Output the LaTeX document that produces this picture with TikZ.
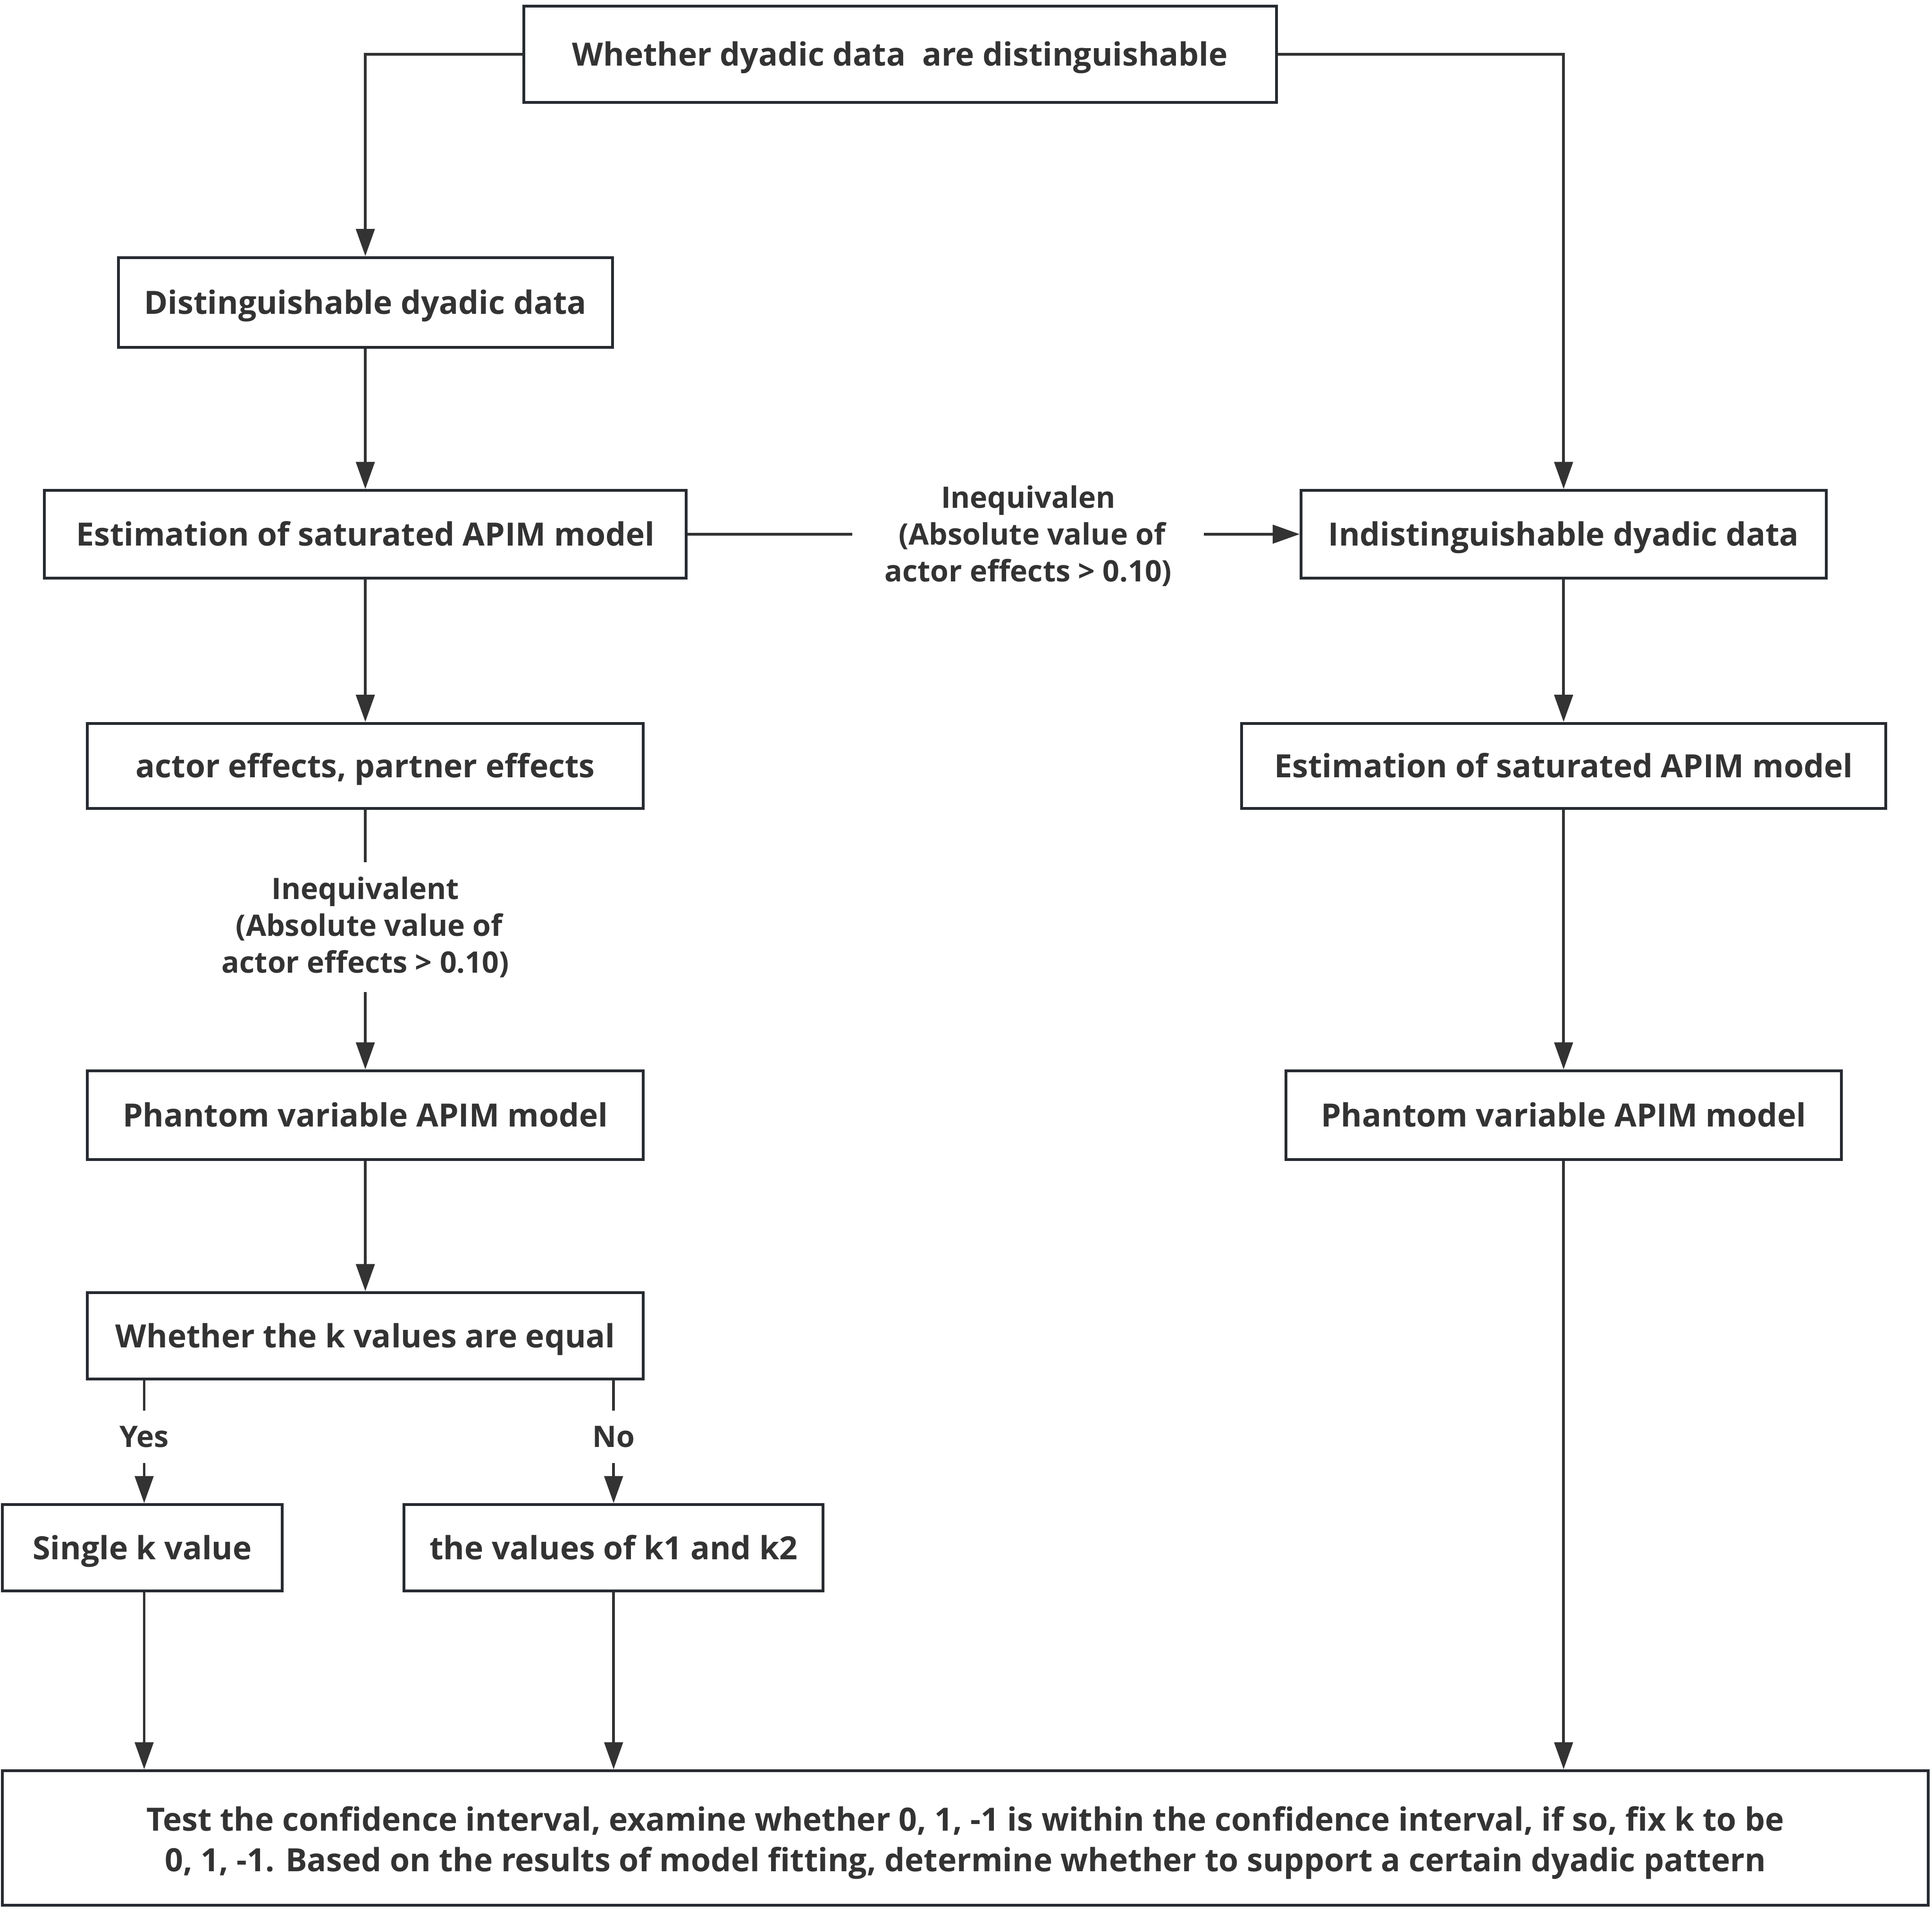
\documentclass[tikz,border=0pt]{standalone}
\usepackage{fontspec}
\setmainfont{Open Sans}
\usetikzlibrary{arrows.meta,calc}
\definecolor{ink}{HTML}{333333}
\definecolor{frame}{HTML}{272B31}
\tikzset{
  boxbase/.style={draw=frame, line width=2.3pt, fill=white, inner sep=0pt, align=center,
    text=ink, font=\fontsize{26}{32}\selectfont\bfseries},
  box/.style={boxbase, text height=20pt, text depth=1pt},
  lab/.style={inner sep=0pt, align=center, text=ink, font=\fontsize{24}{30}\selectfont\bfseries},
  conn/.style={draw=ink, line width=2.2pt},
  arr/.style={conn, -{Triangle[length=22pt,width=15pt]}},
}
\begin{document}
\begin{tikzpicture}[x=1pt,y=-1pt]
\useasboundingbox (0,0) rectangle (1568,1549);
% boxes
\node[box, minimum width=611pt, minimum height=78pt] (b1) at (730.5,44) {Whether dyadic data\ \ are distinguishable};
\node[box, minimum width=401pt, minimum height=73pt] (b2) at (296.5,245.5) {Distinguishable dyadic data};
\node[box, minimum width=521pt, minimum height=71pt] (b3) at (296.5,433.5) {Estimation of saturated APIM model};
\node[box, minimum width=426pt, minimum height=71pt] (b4) at (1269,433.5) {Indistinguishable dyadic data};
\node[box, minimum width=523pt, minimum height=69pt] (b6) at (1269,621.5) {Estimation of saturated APIM model};
\node[box, minimum width=451pt, minimum height=69pt] (b5) at (296.5,621.5) {actor effects, partner effects};
\node[box, minimum width=451pt, minimum height=72pt] (b7) at (296.5,905) {Phantom variable APIM model};
\node[box, minimum width=451pt, minimum height=72pt] (b8) at (1269,905) {Phantom variable APIM model};
\node[box, minimum width=451pt, minimum height=70pt] (b9) at (296.5,1084) {Whether the k values are equal};
\node[box, minimum width=227pt, minimum height=70pt] (b10) at (115.5,1256) {Single k value};
\node[box, minimum width=340pt, minimum height=70pt] (b11) at (498,1256) {the values of k1 and k2};
\node[boxbase, minimum width=1563pt, minimum height=109pt, font=\fontsize{26}{33}\selectfont\bfseries] (b12) at (783.5,1491.5)
  {\rule{0pt}{28pt}Test the confidence interval, examine whether 0, 1, -1 is within the confidence interval, if so, fix k to be\\
   0, 1, -1. Based on the results of model fitting, determine whether to support a certain dyadic pattern};
% labels
\node[lab, minimum width=285pt, minimum height=60pt] (l1) at (834.5,435) {Inequivalen\\\ (Absolute value of\\actor effects {>} 0.10)};
\node[lab, minimum height=105pt] (l2) at (296.5,752.5) {Inequivalent\\\ (Absolute value of\\actor effects {>} 0.10)};
\node[lab, minimum height=42pt] (yes) at (117,1166) {Yes};
\node[lab, minimum height=42pt] (no) at (498,1166) {No};
% connectors
\draw[arr] (b1.west) -| (b2.north);
\draw[arr] (b1.east) -| (b4.north);
\draw[arr] (b2) -- (b3);
\draw[conn] (b3.east) -- (b3.east -| l1.west);
\draw[arr] (b4.west -| l1.east) -- (b4.west);
\draw[arr] (b3) -- (b5);
\draw[conn] (b5.south) -- (b5.south |- l2.north);
\draw[arr] (b7.north |- l2.south) -- (b7.north);
\draw[arr] (b4) -- (b6);
\draw[arr] (b6) -- (b8);
\draw[arr] (b7) -- (b9);
\draw[conn] (b9.south -| yes) -- (yes.north);
\draw[arr] (yes.south) -- (b10.north -| yes);
\draw[conn] (b9.south -| no) -- (no.north);
\draw[arr] (no.south) -- (b11.north);
\draw[arr] (b10.south -| yes) -- (b12.north -| yes);
\draw[arr] (b11.south) -- (b12.north -| b11);
\draw[arr] (b8.south) -- (b12.north -| b8);
\end{tikzpicture}
\end{document}
